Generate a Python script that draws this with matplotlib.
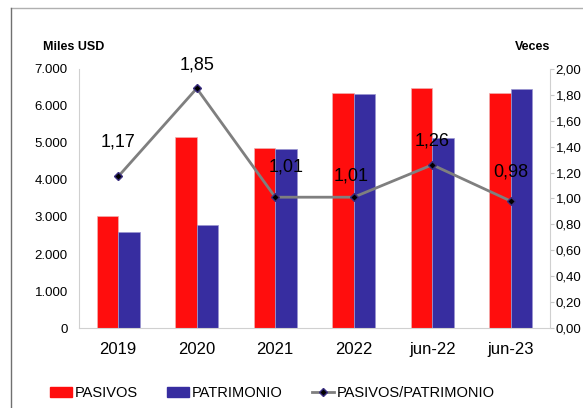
import matplotlib
matplotlib.use("Agg")
import matplotlib.pyplot as plt
from matplotlib.lines import Line2D
from matplotlib.patches import Patch
from matplotlib.ticker import FuncFormatter
import numpy as np

plt.rcParams["font.family"] = ["Liberation Sans", "DejaVu Sans"]

categories = ["2019", "2020", "2021", "2022", "jun-22", "jun-23"]
pasivos = [3035, 5150, 4860, 6340, 6480, 6340]
patrimonio = [2590, 2790, 4840, 6315, 5140, 6450]
ratio = [1.17, 1.85, 1.01, 1.01, 1.26, 0.98]
# label offsets (points) above each marker
label_dy = [25, 17, 22, 15, 17, 21]
label_dx = [0, 0, 8, -2, 0, 0]

RED = "#ff0d0d"
BLUE = "#372da0"
GRAY = "#7f7f7f"

fig = plt.figure(figsize=(5.83, 4.08), dpi=100)
ax = fig.add_axes([0.1355, 0.196, 0.8079, 0.635])
x = np.arange(len(categories))
w = 0.276
ax.bar(x - w / 2, pasivos, w, color=RED, edgecolor="#f0b0b0", linewidth=0.5)
ax.bar(x + w / 2, patrimonio, w, color=BLUE, edgecolor="#9a96d0", linewidth=0.5)
ax.set_xlim(-0.5, len(categories) - 0.5)
ax.set_ylim(0, 7000)
ax.set_yticks(range(0, 7001, 1000))
ax.yaxis.set_major_formatter(FuncFormatter(lambda v, p: f"{int(v):,}".replace(",", ".")))
ax.set_xticks(x)
ax.set_xticklabels(categories, fontsize=12)
ax.tick_params(axis="x", length=0, pad=10)
ax.tick_params(axis="y", length=0, labelsize=9.5, pad=8)
for s in ["top", "right"]:
    ax.spines[s].set_visible(False)
for s in ["left", "bottom"]:
    ax.spines[s].set_color("#d0d0d0")

ax2 = ax.twinx()
ax2.plot(x, ratio, color=GRAY, lw=2, marker="D", ms=4,
         mfc="black", mec="#3a2e80", zorder=5)
ax2.set_ylim(0, 2)
ax2.set_yticks(np.arange(0, 2.01, 0.2))
ax2.yaxis.set_major_formatter(FuncFormatter(lambda v, p: f"{v:.2f}".replace(".", ",")))
ax2.tick_params(axis="y", length=3, color="#c8c8c8", labelsize=9.5, pad=1)
for s in ["top", "left", "bottom"]:
    ax2.spines[s].set_visible(False)
ax2.spines["right"].set_color("#d0d0d0")
for xi, r, dy, dx in zip(x, ratio, label_dy, label_dx):
    ax2.annotate(f"{r:.2f}".replace(".", ","), (xi, r), xytext=(dx, dy),
                 textcoords="offset points", ha="center", va="center",
                 fontsize=13)

fig.text(0.074, 0.886, "Miles USD", fontsize=9, fontweight="bold",
         ha="left", va="center")
fig.text(0.944, 0.886, "Veces", fontsize=9, fontweight="bold",
         ha="right", va="center")

handles = [Patch(color=RED), Patch(color=BLUE),
           Line2D([], [], color=GRAY, lw=2, marker="D", ms=4, mfc="black",
                  mec="#3a2e80")]
fig.legend(handles, ["PASIVOS", "PATRIMONIO", "PASIVOS/PATRIMONIO"],
           loc="center", bbox_to_anchor=(0.467, 0.037), ncol=3, frameon=False,
           fontsize=10.5, handlelength=1.5, handletextpad=0.2, columnspacing=2.0)

# outer frame (top and left edges visible)
fig.add_artist(Line2D([0.019, 1.0], [0.980, 0.980], color="#b0b0b0", lw=1))
fig.add_artist(Line2D([0.019, 0.019], [0.0, 0.980], color="#707070", lw=1))

fig.savefig("out.png", dpi=100)
